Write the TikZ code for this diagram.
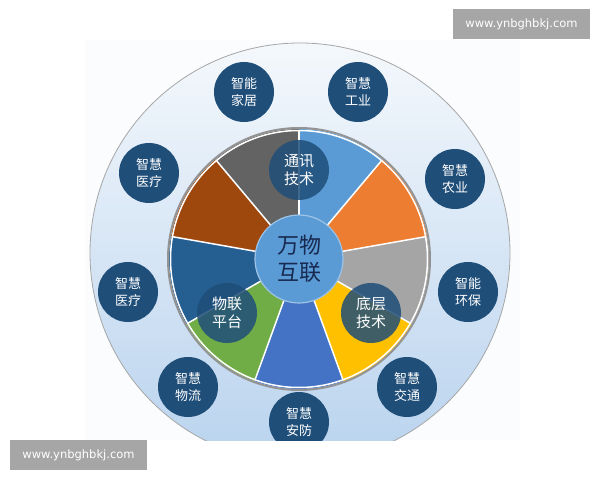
\documentclass[tikz,border=0pt]{standalone}
\usepackage{fontspec}
\newfontfamily\cjk{Noto Sans CJK SC}
\newfontfamily\wmfont{DejaVu Sans}
\definecolor{navy}{HTML}{1F4E79}
\definecolor{cA}{HTML}{5B9BD5}
\definecolor{cB}{HTML}{ED7D31}
\definecolor{cC}{HTML}{A5A5A5}
\definecolor{cD}{HTML}{FFC000}
\definecolor{cE}{HTML}{4472C4}
\definecolor{cF}{HTML}{70AD47}
\definecolor{cG}{HTML}{255E91}
\definecolor{cH}{HTML}{9E480E}
\definecolor{cI}{HTML}{636363}
\definecolor{ringtop}{HTML}{F4F8FC}
\definecolor{ringbot}{HTML}{B9D3EE}
\definecolor{centerfill}{HTML}{5A9AD5}
\definecolor{centertext}{HTML}{17294F}
\definecolor{wmgray}{HTML}{A6A6A6}
\definecolor{faintbg}{HTML}{FBFCFD}
\tikzset{
  outc/.style={circle, fill=navy, minimum size=60pt, inner sep=0pt, align=center,
    text=white, font=\cjk\fontsize{13}{17}\selectfont},
  piec/.style={circle, fill=navy, fill opacity=0.85, text opacity=1, minimum size=60pt,
    inner sep=0pt, align=center, text=white, font=\cjk\fontsize{15}{18}\selectfont},
  hubc/.style={circle, fill=centerfill, draw=cA!60!white, line width=1.2pt, minimum size=88pt,
    inner sep=0pt, align=center, text=centertext, font=\cjk\fontsize{22}{27}\selectfont},
  wmbox/.style={fill=wmgray, text=white, minimum width=137pt, minimum height=30pt,
    inner sep=0pt, font=\wmfont\fontsize{11.5}{13}\selectfont},
  sep/.style={white, line width=1.5pt}
}
\begin{document}
\begin{tikzpicture}[x=1pt,y=1pt]
\useasboundingbox (0,0) rectangle (600,480);
\fill[white] (0,0) rectangle (600,480);
\fill[faintbg] (85,40) rectangle (520,440);
\begin{scope}
  \clip (0,40) rectangle (600,480);
  \shade[top color=ringtop, bottom color=ringbot] (300,227) circle (210);
  \draw[gray!70, line width=0.8pt] (300,227) circle (210);
  % pie
  \coordinate (pc) at (299,221);
  \foreach \a/\c in {50/cA,10/cB,-30/cC,-70/cD,-110/cE,-150/cF,170/cG,130/cH,90/cI}{
    \fill[\c] (pc) -- ++(\a:130) arc[start angle=\a, end angle=\a+40, radius=130] -- cycle;
  }
  \foreach \a in {90,50,10,-30,-70,-110,-150,170,130}{
    \draw[sep] (pc) -- ++(\a:129);
  }
  \draw[white, line width=1.5pt] (pc) circle (128.5);
  \draw[gray!85, line width=2pt] (pc) circle (131);
  \node[hubc] (hub) at (pc) {万物\\互联};
  \node[piec] (tx) at (299,310) {通讯\\技术};
  \node[piec] (wl) at (227,167) {物联\\平台};
  \node[piec] (dc) at (371,167) {底层\\技术};
  % outer ring circles
  \node[outc] (jj) at (244,388) {智能\\家居};
  \node[outc] (gy) at (358,388) {智慧\\工业};
  \node[outc] (ny) at (455,301) {智慧\\农业};
  \node[outc] (hb) at (468,188) {智能\\环保};
  \node[outc] (jt) at (407,93) {智慧\\交通};
  \node[outc] (af) at (299,58) {智慧\\安防};
  \node[outc] (wlu) at (188,93) {智慧\\物流};
  \node[outc] (yl2) at (128,188) {智慧\\医疗};
  \node[outc] (yl1) at (149,307) {智慧\\医疗};
\end{scope}
\node[wmbox] (wm1) at (521.5,455.5) {www.ynbghbkj.com};
\node[wmbox] (wm2) at (78.5,25) {www.ynbghbkj.com};
\end{tikzpicture}
\end{document}
